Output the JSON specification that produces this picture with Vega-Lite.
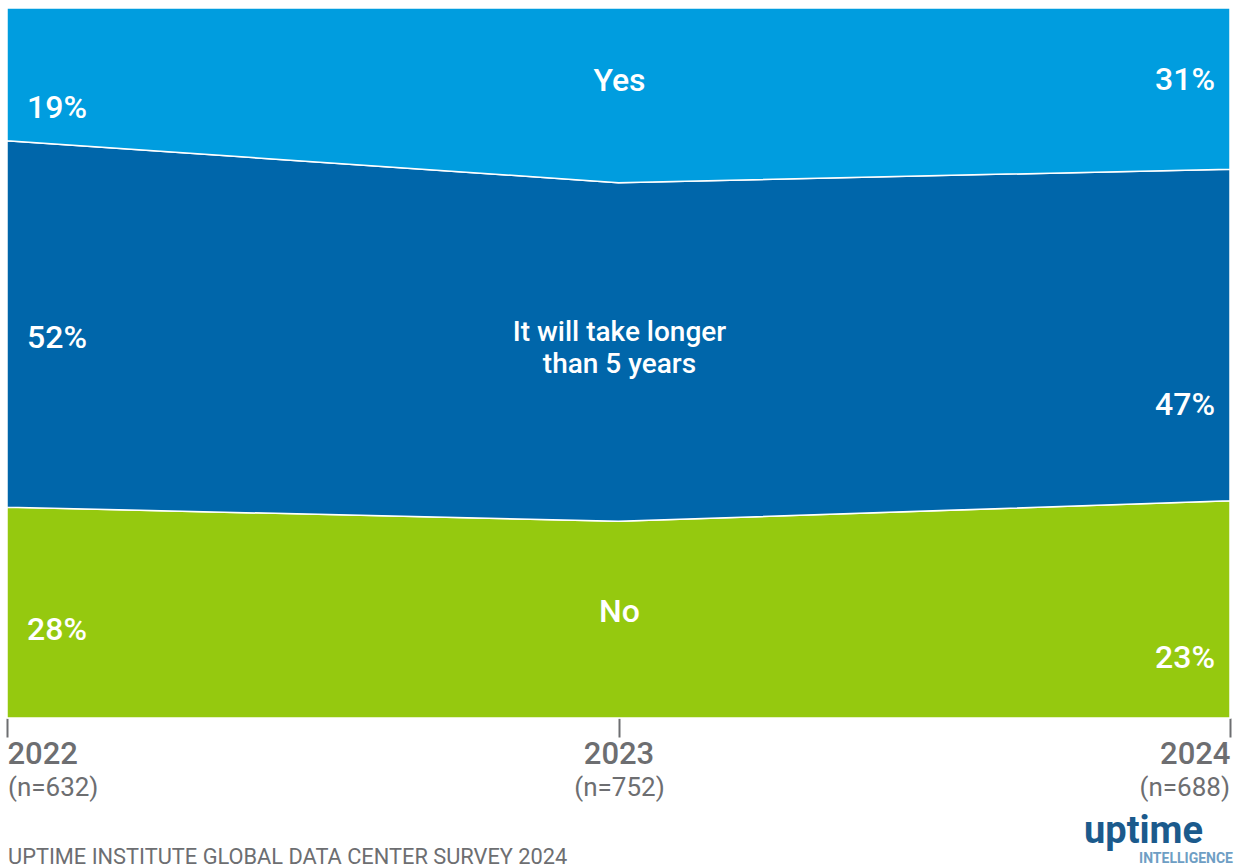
{
  "$schema": "https://vega.github.io/schema/vega-lite/v6.json",
  "width": 1223,
  "height": 710,
  "autosize": {"type": "none"},
  "padding": {"left": 7, "top": 8, "right": 8, "bottom": 150},
  "background": "white",
  "config": {"view": {"stroke": null}, "font": "Roboto"},
  "datasets": {
    "shares": [
      {"year": 2022, "answer": "No", "rank": 1, "value": 29.7},
      {"year": 2022, "answer": "It will take longer than 5 years", "rank": 2, "value": 51.6},
      {"year": 2022, "answer": "Yes", "rank": 3, "value": 18.7},
      {"year": 2023, "answer": "No", "rank": 1, "value": 27.7},
      {"year": 2023, "answer": "It will take longer than 5 years", "rank": 2, "value": 47.7},
      {"year": 2023, "answer": "Yes", "rank": 3, "value": 24.6},
      {"year": 2024, "answer": "No", "rank": 1, "value": 30.6},
      {"year": 2024, "answer": "It will take longer than 5 years", "rank": 2, "value": 46.7},
      {"year": 2024, "answer": "Yes", "rank": 3, "value": 22.7}
    ],
    "labels": [
      {"year": 2022, "pos": 85.9, "text": "19%"},
      {"year": 2022, "pos": 53.5, "text": "52%"},
      {"year": 2022, "pos": 12.4, "text": "28%"},
      {"year": 2024, "pos": 89.9, "text": "31%"},
      {"year": 2024, "pos": 44.1, "text": "47%"},
      {"year": 2024, "pos": 8.5, "text": "23%"},
      {"year": 2023, "pos": 89.7, "text": "Yes"},
      {"year": 2023, "pos": 14.9, "text": "No"}
    ],
    "samples": [
      {"year": 2022, "n": "(n=632)"},
      {"year": 2023, "n": "(n=752)"},
      {"year": 2024, "n": "(n=688)"}
    ],
    "one": [{}]
  },
  "layer": [
    {
      "data": {"name": "shares"},
      "mark": {"type": "area", "stroke": "white", "strokeWidth": 1.5, "interpolate": "linear"},
      "encoding": {
        "x": {
          "field": "year", "type": "ordinal",
          "scale": {"type": "point", "padding": 0},
          "axis": {
            "title": null, "labelAngle": 0,
            "labelAlign": {"expr": "datum.value == 2022 ? 'left' : datum.value == 2024 ? 'right' : 'center'"},
            "labelOverlap": false, "domain": false, "grid": false,
            "ticks": true, "tickSize": 19, "tickColor": "#6d6e71", "tickWidth": 2,
            "labelFontSize": 31, "labelFontWeight": 500, "labelColor": "#6d6e71",
            "labelPadding": 2, "labelFont": "Roboto"
          }
        },
        "y": {
          "field": "value", "type": "quantitative", "stack": "zero",
          "scale": {"domain": [0, 100], "nice": false}, "axis": null
        },
        "color": {
          "field": "answer", "type": "nominal",
          "scale": {"domain": ["No", "It will take longer than 5 years", "Yes"], "range": ["#95c90f", "#0066aa", "#009ddf"]},
          "legend": null
        },
        "order": {"field": "rank", "type": "quantitative"}
      }
    },
    {
      "data": {"name": "labels"},
      "transform": [{"filter": "datum.year == 2022"}],
      "mark": {"type": "text", "align": "left", "baseline": "middle", "dx": 20, "fontSize": 32, "fontWeight": 500, "color": "white"},
      "encoding": {
        "x": {"field": "year", "type": "ordinal"},
        "y": {"field": "pos", "type": "quantitative"},
        "text": {"field": "text"}
      }
    },
    {
      "data": {"name": "labels"},
      "transform": [{"filter": "datum.year == 2024"}],
      "mark": {"type": "text", "align": "right", "baseline": "middle", "dx": -15, "fontSize": 32, "fontWeight": 500, "color": "white"},
      "encoding": {
        "x": {"field": "year", "type": "ordinal"},
        "y": {"field": "pos", "type": "quantitative"},
        "text": {"field": "text"}
      }
    },
    {
      "data": {"name": "labels"},
      "transform": [{"filter": "datum.year == 2023"}],
      "mark": {"type": "text", "align": "center", "baseline": "middle", "dx": 1, "fontSize": 32, "fontWeight": 500, "color": "white"},
      "encoding": {
        "x": {"field": "year", "type": "ordinal"},
        "y": {"field": "pos", "type": "quantitative"},
        "text": {"field": "text"}
      }
    },
    {
      "data": {"name": "one"},
      "mark": {"type": "text", "align": "center", "baseline": "middle", "dx": 1, "fontSize": 28, "fontWeight": 500, "color": "white", "lineHeight": 32, "text": ["It will take longer", "than 5 years"]},
      "encoding": {
        "x": {"datum": 2023, "type": "ordinal"},
        "y": {"datum": 54.2, "type": "quantitative"}
      }
    },
    {
      "data": {"name": "samples"},
      "transform": [{"filter": "datum.year == 2022"}],
      "mark": {"type": "text", "align": "left", "baseline": "middle", "dx": 1, "fontSize": 26, "color": "#6d6e71"},
      "encoding": {
        "x": {"field": "year", "type": "ordinal"},
        "y": {"datum": -9.8, "type": "quantitative"},
        "text": {"field": "n"}
      }
    },
    {
      "data": {"name": "samples"},
      "transform": [{"filter": "datum.year == 2023"}],
      "mark": {"type": "text", "align": "center", "baseline": "middle", "dx": 1, "fontSize": 26, "color": "#6d6e71"},
      "encoding": {
        "x": {"field": "year", "type": "ordinal"},
        "y": {"datum": -9.8, "type": "quantitative"},
        "text": {"field": "n"}
      }
    },
    {
      "data": {"name": "samples"},
      "transform": [{"filter": "datum.year == 2024"}],
      "mark": {"type": "text", "align": "right", "baseline": "middle", "dx": 0, "fontSize": 26, "color": "#6d6e71"},
      "encoding": {
        "x": {"field": "year", "type": "ordinal"},
        "y": {"datum": -9.8, "type": "quantitative"},
        "text": {"field": "n"}
      }
    },
    {
      "data": {"name": "one"},
      "mark": {"type": "text", "align": "left", "baseline": "middle", "dx": 1, "fontSize": 21.8, "color": "#6d6e71", "text": "UPTIME INSTITUTE GLOBAL DATA CENTER SURVEY 2024"},
      "encoding": {
        "x": {"datum": 2022, "type": "ordinal"},
        "y": {"datum": -19.6, "type": "quantitative"}
      }
    },
    {
      "data": {"name": "one"},
      "mark": {"type": "text", "align": "right", "baseline": "middle", "dx": -27, "fontSize": 38, "fontWeight": "bold", "color": "#1b5a8c", "text": "uptime"},
      "encoding": {
        "x": {"datum": 2024, "type": "ordinal"},
        "y": {"datum": -16.0, "type": "quantitative"}
      }
    },
    {
      "data": {"name": "one"},
      "mark": {"type": "text", "align": "right", "baseline": "middle", "dx": 3, "fontSize": 14, "fontWeight": "bold", "color": "#6e9ec4", "text": "INTELLIGENCE"},
      "encoding": {
        "x": {"datum": 2024, "type": "ordinal"},
        "y": {"datum": -19.9, "type": "quantitative"}
      }
    }
  ]
}
